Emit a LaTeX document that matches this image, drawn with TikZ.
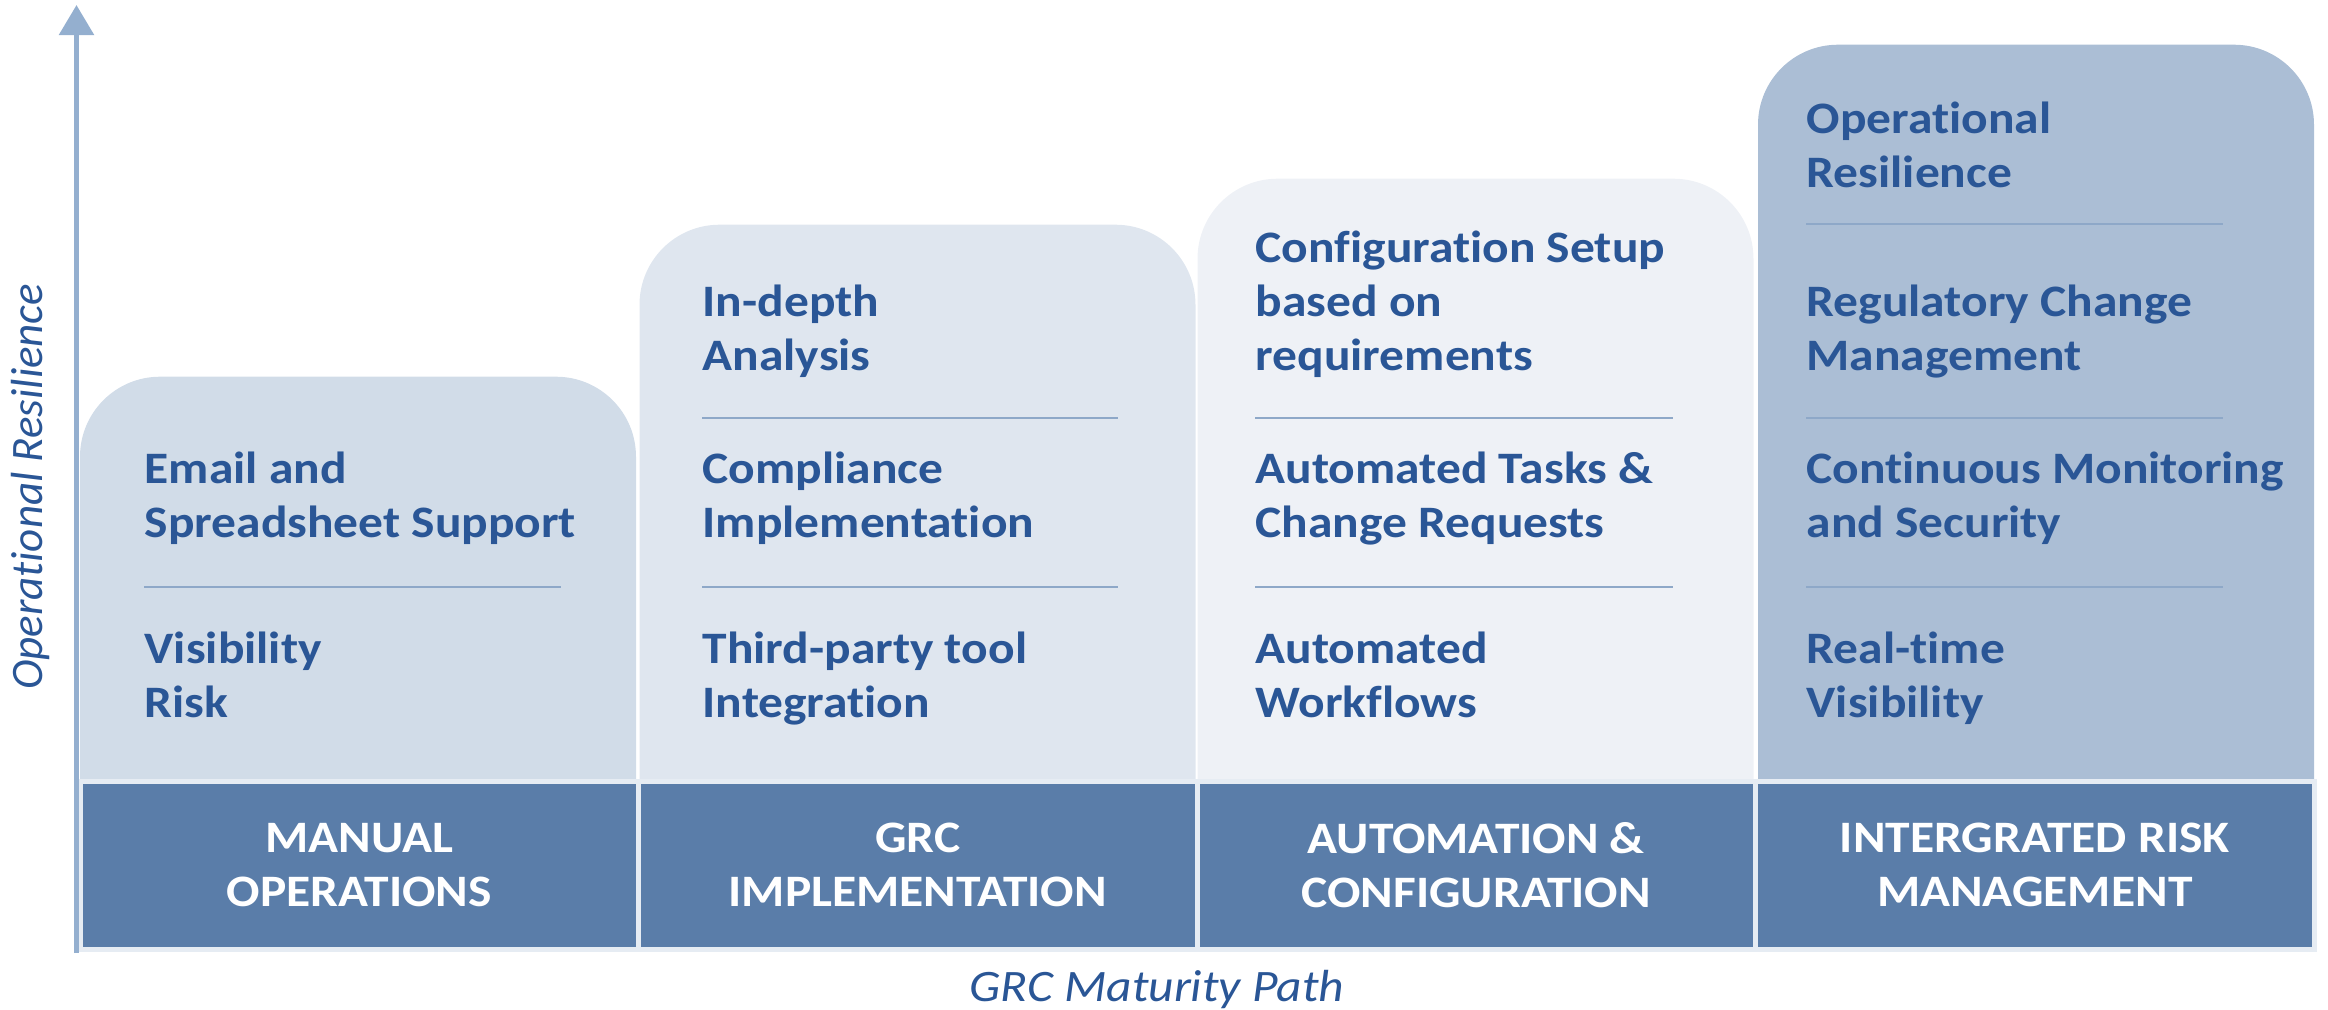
\documentclass[tikz,border=0pt]{standalone}
\usepackage{fontspec}
\setmainfont{Carlito}[FakeStretch=1.1,Ligatures=NoCommon]
\newfontfamily\uprightlabel{Carlito}[Ligatures=NoCommon]
\usetikzlibrary{arrows.meta}

\definecolor{cardA}{HTML}{D1DCE8}
\definecolor{cardB}{HTML}{DFE6EF}
\definecolor{cardC}{HTML}{EEF1F6}
\definecolor{cardD}{HTML}{ABBED5}
\definecolor{stageblue}{HTML}{5A7DA9}
\definecolor{textblue}{HTML}{2A5696}
\definecolor{axisblue}{HTML}{94AFCF}
\definecolor{rulecol}{HTML}{8EA8C8}
\definecolor{edgecol}{HTML}{E6ECF3}

\begin{document}
\begin{tikzpicture}[
card/.style={
rectangle,
rounded corners=0.8cm,
anchor=north,
minimum width=5.56cm,
inner sep=0pt},
stage/.style={
draw=edgecol,
line width=0.05cm,
fill=stageblue,
rectangle,
minimum width=5.585cm,
minimum height=1.68cm,
text=white,
align=center,
font=\bfseries\fontsize{12.8}{15.2}\selectfont},
item/.style={
anchor=base west,
align=left,
inner sep=0pt,
text=textblue,
font=\bfseries\fontsize{12.8}{15.3}\selectfont},
divider/.style={
draw=rulecol,
line width=0.6pt},
yaxis/.style={
draw=axisblue,
line width=0.055cm,
-{Triangle[width=0.34cm,length=0.3cm]}},
axislabel/.style={
anchor=base,
inner sep=0pt,
text=textblue}
]

\useasboundingbox (0,0) rectangle (23.28,10.09);

\draw (3.58,6.33)node[card,fill=cardA,minimum height=4.9cm] (manual) {};
\draw (9.175,7.85)node[card,fill=cardB,minimum height=6.4cm] (grc) {};
\draw (14.755,8.31)node[card,fill=cardC,minimum height=6.9cm] (auto) {};
\draw (20.36,9.65)node[card,fill=cardD,minimum height=8.2cm] (irm) {};

\draw (3.5925,1.44)node[stage] (manualstage) {MANUAL\\OPERATIONS};
\draw (9.1775,1.44)node[stage] (grcstage) {GRC\\IMPLEMENTATION};
\draw (14.7625,1.44)node[stage] (autostage) {AUTOMATION \&\\CONFIGURATION};
\draw (20.3475,1.44)node[stage] (irmstage) {INTERGRATED RISK\\MANAGEMENT};

\draw (1.44,4.72)node[item] (email) {Email and\\Spreadsheet Support};
\draw (1.44,2.92)node[item] (visrisk) {Visibility\\Risk};
\draw[divider] (1.44,4.22) -- (5.61,4.22);

\draw (7.02,6.39)node[item] (indepth) {In-depth\\Analysis};
\draw (7.02,4.72)node[item] (compliance) {Compliance\\Implementation};
\draw (7.02,2.92)node[item] (thirdparty) {Third-party tool\\Integration};
\draw[divider] (7.02,5.91) -- (11.18,5.91);
\draw[divider] (7.02,4.22) -- (11.18,4.22);

\draw (12.55,6.39)node[item] (config) {Configuration Setup\\based on\\requirements};
\draw (12.55,4.72)node[item] (tasks) {Automated Tasks \&\\Change Requests};
\draw (12.55,2.92)node[item] (workflows) {Automated\\Workflows};
\draw[divider] (12.55,5.91) -- (16.73,5.91);
\draw[divider] (12.55,4.22) -- (16.73,4.22);

\draw (18.06,8.22)node[item] (opres) {Operational\\Resilience};
\draw (18.06,6.39)node[item] (regchange) {Regulatory Change\\Management};
\draw (18.06,4.72)node[item] (monitoring) {Continuous Monitoring\\and Security};
\draw (18.06,2.92)node[item] (realtime) {Real-time\\Visibility};
\draw[divider] (18.06,7.85) -- (22.23,7.85);
\draw[divider] (18.06,5.91) -- (22.23,5.91);
\draw[divider] (18.06,4.22) -- (22.23,4.22);

\coordinate (origin) at (0.765,0.56);
\coordinate (ytip) at (0.765,10.04);
\draw[yaxis] (origin) -- (ytip);

\draw (0.43,5.22)node[axislabel,rotate=90,font=\uprightlabel\itshape\fontsize{12.8}{15}\selectfont] (ylabel) {Operational Resilience};
\draw (11.57,0.08)node[axislabel,font=\itshape\fontsize{12.8}{15}\selectfont] (xlabel) {GRC Maturity Path};

\end{tikzpicture}
\end{document}
